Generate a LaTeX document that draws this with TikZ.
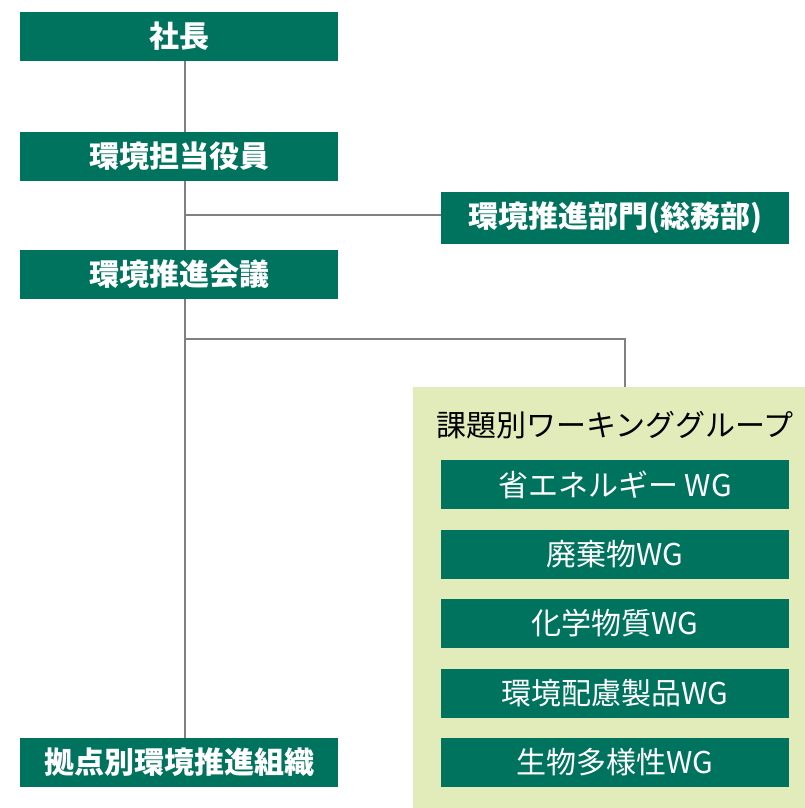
\documentclass[tikz,border=0pt]{standalone}
\usepackage{fontspec}
\setmainfont{Noto Sans CJK JP}
\definecolor{boxgreen}{RGB}{0,115,94}
\definecolor{panelgreen}{RGB}{226,236,186}
\definecolor{linegray}{RGB}{128,128,128}
\begin{document}
\begin{tikzpicture}[x=1pt,y=-1pt,
  gbox/.style={fill=boxgreen, text=white, minimum width=318pt, minimum height=49pt, inner sep=0pt, font=\fontsize{30}{30}\selectfont\bfseries},
  wgbox/.style={gbox, minimum width=348pt, font=\fontsize{30}{30}\selectfont},
  conn/.style={draw=linegray, line width=1.4pt}]
\useasboundingbox (0,0) rectangle (805,808);
\node[fill=panelgreen, minimum width=392pt, minimum height=421pt, inner sep=0pt] (wgpanel) at (609,597.5) {};
\node[gbox] (shacho) at (179,36.5) {社長};
\node[gbox] (tanto) at (179,156.5) {環境担当役員};
\node[gbox] (kaigi) at (179,274.5) {環境推進会議};
\node[gbox] (kyoten) at (179,762.5) {拠点別環境推進組織};
\node[gbox, minimum width=348pt, minimum height=52pt] (bumon) at (615,218) {環境推進部門(総務部)};
\node[font=\fontsize{30}{30}\selectfont, text=black, inner sep=0pt] (title) at (615,425) {課題別ワーキンググループ};
\node[wgbox] (wg1) at (615,484.5) {省エネルギー WG};
\node[wgbox] (wg2) at (615,554.5) {廃棄物WG};
\node[wgbox] (wg3) at (615,623.5) {化学物質WG};
\node[wgbox] (wg4) at (615,693.5) {環境配慮製品WG};
\node[wgbox] (wg5) at (615,762.5) {生物多様性WG};
\coordinate (sp) at (185,0);
\coordinate (wgx) at (625,0);
\coordinate (b1) at (185,215);
\coordinate (b2) at (185,339);
\draw[conn] (shacho.south -| sp) -- (tanto.north -| sp);
\draw[conn] (tanto.south -| sp) -- (kaigi.north -| sp);
\draw[conn] (b1) -- (b1 -| bumon.west);
\draw[conn] (kaigi.south -| sp) -- (kyoten.north -| sp);
\draw[conn] (b2) -- (b2 -| wgx) -- (wgpanel.north -| wgx);
\end{tikzpicture}
\end{document}
